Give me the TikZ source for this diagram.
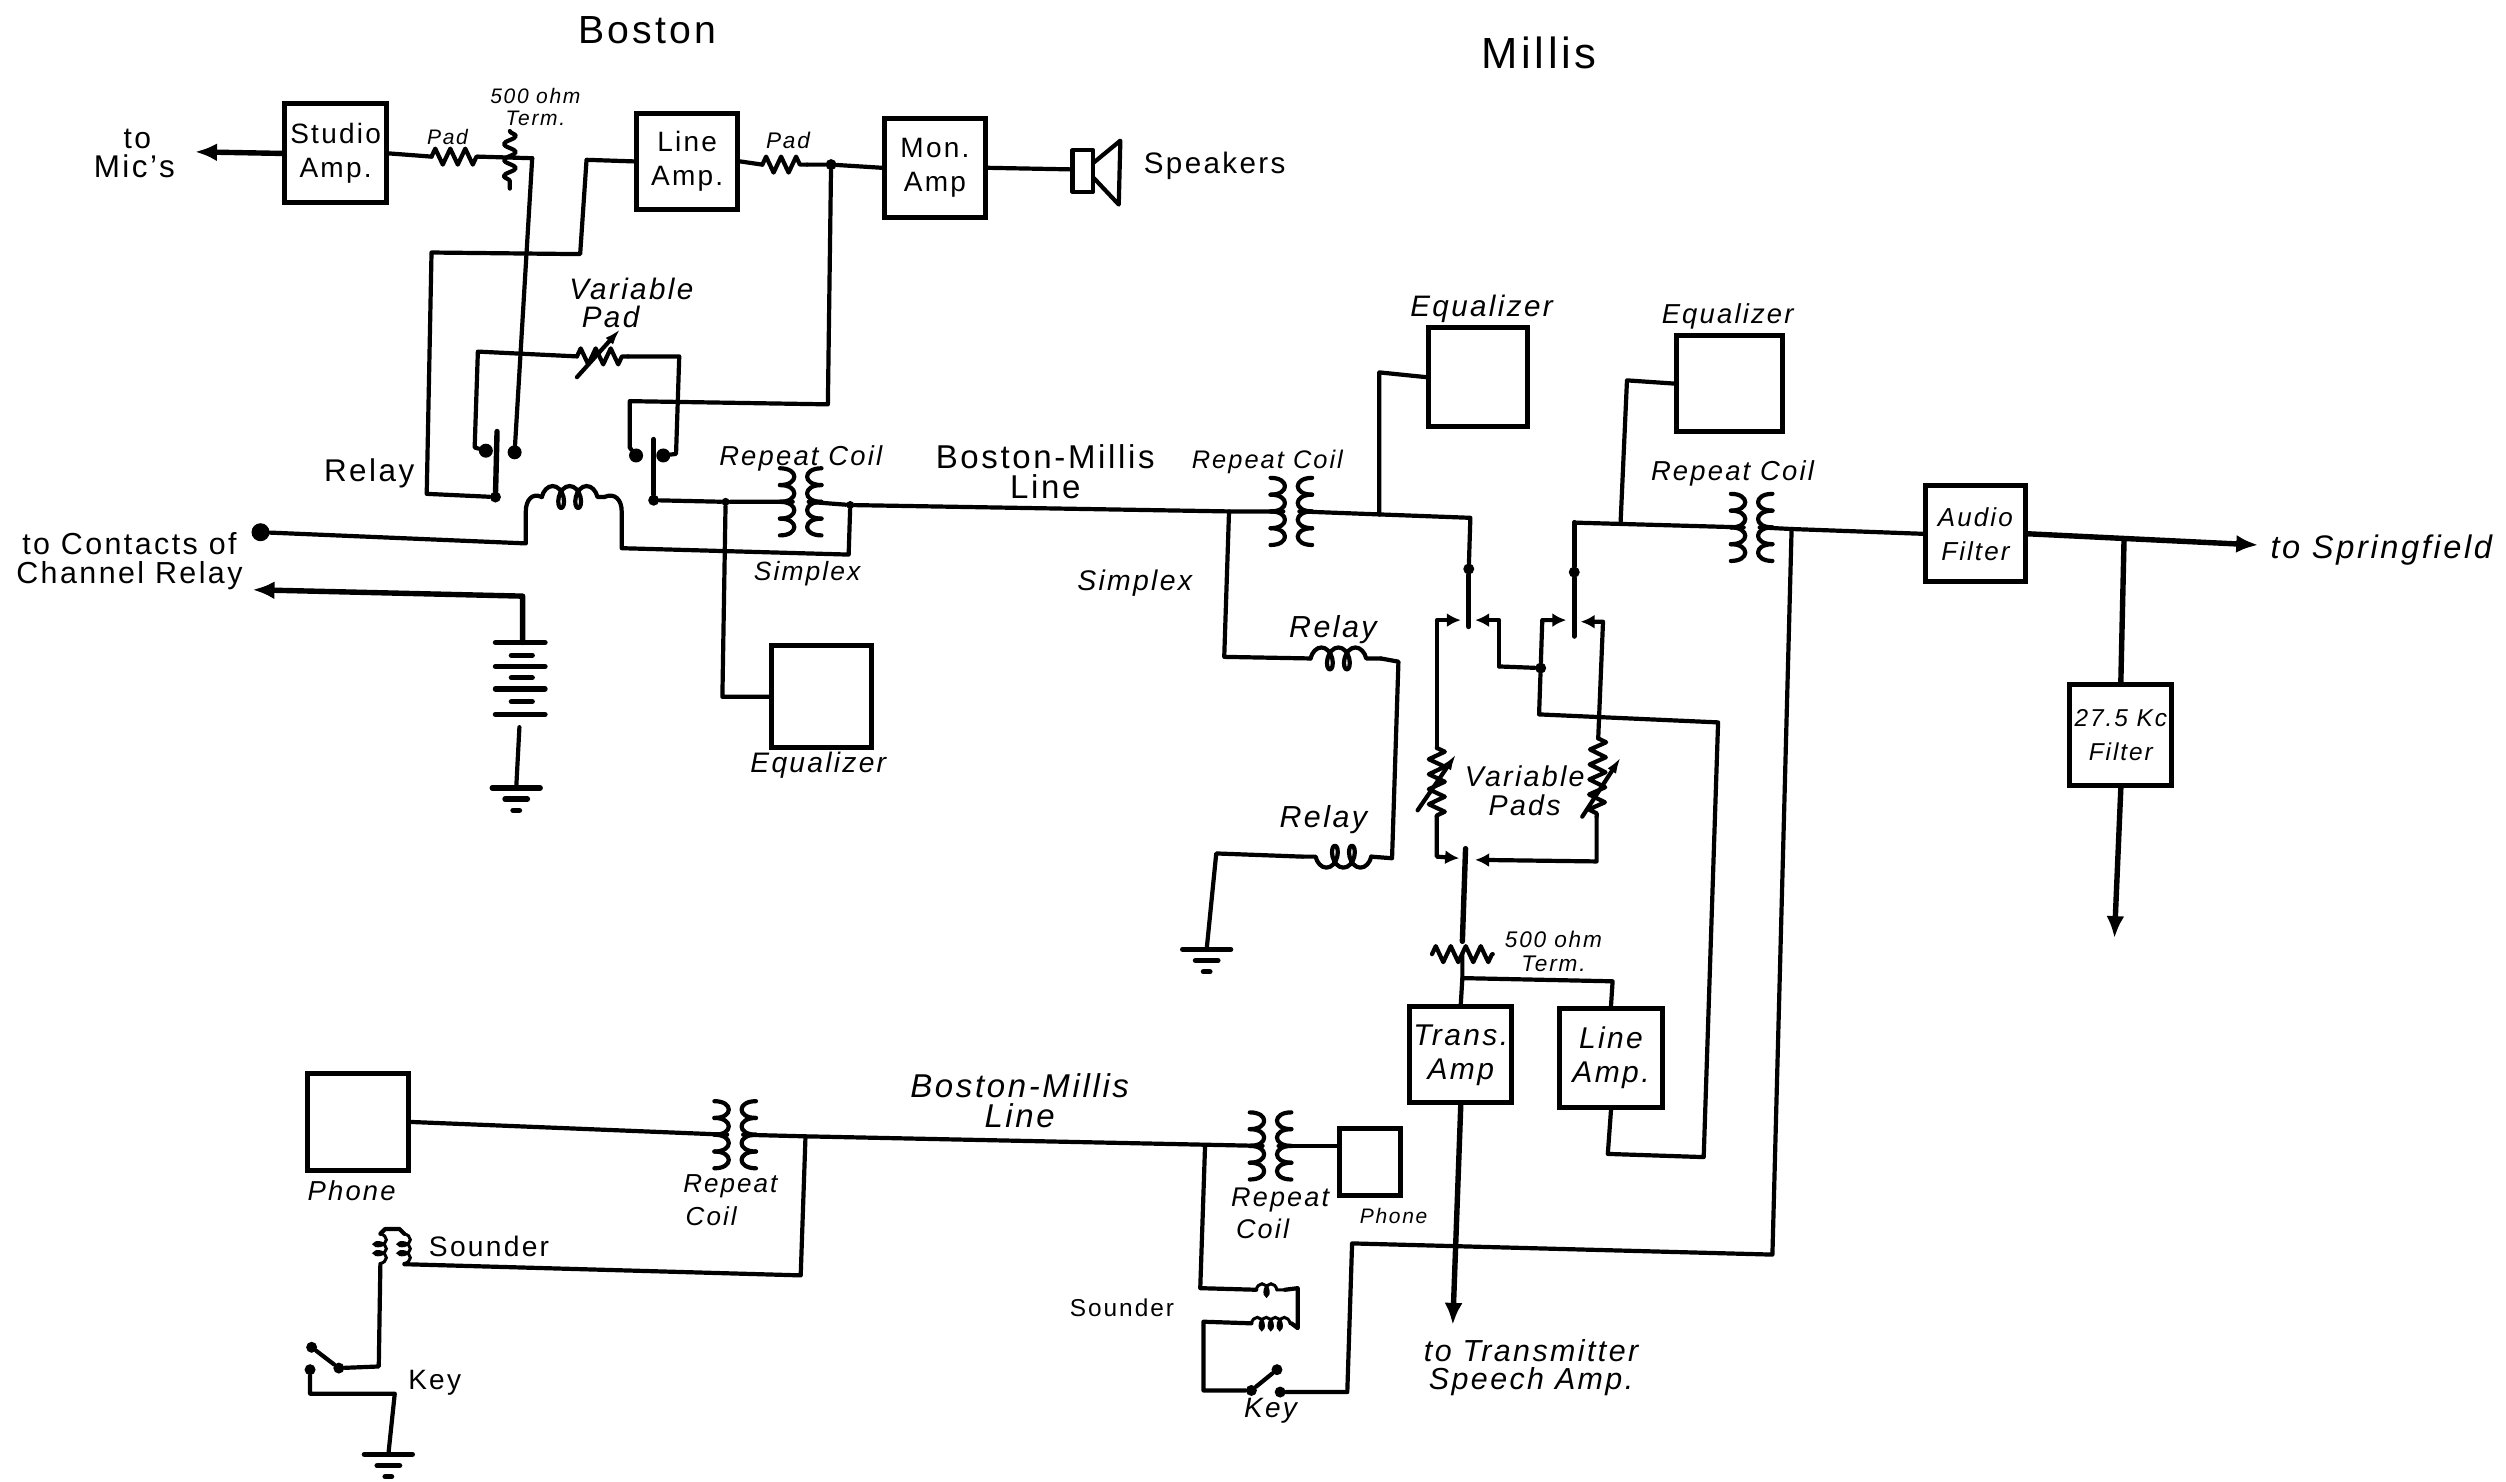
\documentclass[tikz,border=0pt]{standalone}
\usepackage{fontspec}
\setmainfont{Liberation Sans}[LetterSpace=8]
\usetikzlibrary{arrows.meta,decorations.pathmorphing}

\tikzset{
	wire/.style={line width=2.1pt,line cap=round,line join=round},
	heavy/.style={line width=2.7pt,line cap=round,line join=round},
	tip/.style={-{Latex[length=11pt,width=9pt]}},
	contact/.style={-{Latex[length=7pt,width=7pt]}},
	box/.style={draw,line width=2.5pt,align=center,inner sep=0pt},
	boxsize/.style 2 args={minimum width=#1*0.799pt,minimum height=#2*0.799pt},
	dot/.style={circle,fill,inner sep=0pt,minimum size=5.5pt},
	lab/.style={align=center,inner sep=0pt,font=\fontsize{#1}{17}\selectfont},
	lab/.default=14,
	labi/.style={align=center,inner sep=0pt,font=\fontsize{#1}{17}\selectfont\itshape},
	labi/.default=15,
	res/.style={wire,decorate,decoration={zigzag,amplitude=4pt,segment length=7.5pt}},
	ind/.style={wire,decorate,decoration={coil,aspect=0.6,amplitude=5.5pt,segment length=8.5pt}},
	smallind/.style={line width=1.5pt,decorate,decoration={coil,aspect=0.6,amplitude=3pt,segment length=4.5pt}},
	repcoil/.pic={
		\foreach \y in {-21,-10.5,0,10.5} {
			\draw[wire] (-13,\y) .. controls (-1,\y) and (-1,\y+10.5) .. (-13,\y+10.5);
			\draw[wire] (13,\y) .. controls (1,\y) and (1,\y+10.5) .. (13,\y+10.5);
		}
		\coordinate (-l) at (-5,0);
		\coordinate (-r) at (5,0);
	},
	earth/.pic={
		\draw[heavy] (-15,0) -- (15,0);
		\draw[heavy] (-7,7) -- (7,7);
		\draw[heavy] (-2,14) -- (2,14);
		\coordinate (-t) at (0,0);
	},
}

\begin{document}
\begin{tikzpicture}[x=0.799pt,y=-0.799pt]
	\useasboundingbox (0,0) rectangle (1568,927);

	\node[lab=19.6] (boston) at (405,19) {Boston};
	\node[lab=21.8] (millis) at (963,33) {Millis};

	% amplifiers and filters
	\node[box,boxsize={64}{62},lab] (studio) at (210,96) {Studio\\Amp.};
	\node[box,boxsize={63}{60},lab] (lineb) at (430,101) {Line\\Amp.};
	\node[box,boxsize={63}{62},lab] (mon) at (585,105) {Mon.\\Amp};
	\node[box,boxsize={64}{60},labi] (trans) at (914,660) {Trans.\\Amp};
	\node[box,boxsize={65}{62},labi] (linem) at (1008,662) {Line\\Amp.};
	\node[box,boxsize={63}{60},labi=13] (audio) at (1236,334) {Audio\\Filter};
	\node[box,boxsize={64}{63},labi=12.2] (kc) at (1327,460) {27.5 Kc\\Filter};

	% equalizers and phones
	\node[box,boxsize={62}{62}] (eqa) at (925,236) {};
	\node[box,boxsize={66}{60}] (eqb) at (1082,240) {};
	\node[box,boxsize={62}{64}] (eqc) at (514,436) {};
	\node[box,boxsize={63}{61}] (phonea) at (224,702) {};
	\node[box,boxsize={38}{42}] (phoneb) at (857,727) {};

	% repeat coils
	\pic (rca) at (501,314) {repcoil};
	\pic (rcb) at (808,320) {repcoil};
	\pic (rcc) at (1096,330) {repcoil};
	\pic (rcd) at (460,710) {repcoil};
	\pic (rce) at (795,717) {repcoil};

	% grounds
	\pic (gnda) at (323,493) {earth};
	\pic (gndb) at (755,594) {earth};
	\pic (gndc) at (243,910) {earth};

	% junctions
	\node[dot] (ja) at (520,103) {};
	\node[dot] (jb) at (310,311) {};
	\node[dot] (jc) at (409,313) {};
	\node[dot,minimum size=4pt] (jd) at (454,314) {};
	\node[dot,minimum size=4pt] (je) at (532,316) {};
	\node[dot] (jf) at (919,356) {};
	\node[dot] (jg) at (985,358) {};
	\node[dot] (jh) at (964,418) {};

	% contacts
	\node[dot,minimum size=7pt] (ca) at (304,282) {};
	\node[dot,minimum size=7pt] (cb) at (322,283) {};
	\node[dot,minimum size=7pt] (cc) at (398,285) {};
	\node[dot,minimum size=7pt] (cd) at (415,285) {};
	\node[dot,minimum size=9pt] (ce) at (163,333) {};
	\node[dot] (keya) at (195,843) {};
	\node[dot] (keyb) at (212,856) {};
	\node[dot] (keyc) at (194,857) {};
	\node[dot] (keyd) at (799,857) {};
	\node[dot] (keye) at (783,870) {};
	\node[dot] (keyf) at (801,871) {};

	% free ends
	\coordinate (mic) at (122,95);
	\coordinate (chan) at (158,369);
	\coordinate (spring) at (1413,341);
	\coordinate (down) at (1323,587);
	\coordinate (tx) at (909,829);

	% studio chain
	\coordinate (padaa) at (270,98);
	\coordinate (padab) at (299,98);
	\coordinate (padba) at (477,103);
	\coordinate (padbb) at (505,103);
	\coordinate (terma) at (333,99);
	\draw[heavy,tip] (studio.west) -- (mic);
	\draw[wire] (studio.east) -- (padaa);
	\draw[res] (padaa) -- (padab);
	\draw[wire] (padab) -- (terma);
	\draw[wire,decorate,decoration={snake,amplitude=3pt,segment length=8pt}] (319,82) -- (319,118);
	\draw[wire] (terma) -- (cb);
	\draw[wire] (lineb.east) -- (padba);
	\draw[res] (padba) -- (padbb);
	\draw[wire] (padbb) -- (ja) -- (mon.west);
	\draw[wire] (lineb.west) -- (367,100) -- (363,159) -- (270,158) -- (267,309) -- (jb);

	% speaker
	\coordinate (spk) at (671,106);
	\draw[wire] (mon.east) -- (spk);
	\draw[wire] (671,94) rectangle (684,120);
	\draw[wire] (684,102) -- (701,88) -- (700,128) -- (684,111);

	% variable pad and relay contacts
	\coordinate (vpa) at (361,223);
	\coordinate (vpb) at (393,223);
	\draw[wire] (ca) -- (297,280) -- (299,220) -- (vpa);
	\draw[res] (vpa) -- (vpb);
	\draw[wire,-{Latex[length=8pt,width=5pt]}] (361,236) -- (388,206);
	\draw[wire] (vpb) -- (425,223) -- (423,284) -- (cd);
	\draw[wire] (cc) -- (394,280) -- (394,251) -- (518,253) -- (ja);
	\draw[heavy] (311,270) -- (jb);
	\draw[heavy] (409,275) -- (jc);

	% relay and simplex
	\coordinate (rela) at (339,311);
	\coordinate (relb) at (378,311);
	\draw[wire] (ce) -- (329,340) -- (329,320) .. controls (329,313) and (333,308) .. (rela);
	\draw[ind] (rela) -- (relb);
	\draw[wire] (relb) .. controls (385,308) and (389,313) .. (389,320) -- (389,343) -- (531,347) -- (je);

	% line out of the studio
	\draw[wire] (jc) -- (jd) -- (rca-l);
	\draw[wire] (rca-r) -- (je) -- (769,320) -- (rcb-l);
	\draw[wire] (jd) -- (452,436) -- (eqc.west);

	% battery
	\coordinate (bata) at (327,402);
	\draw[heavy,tip] (bata) -- (327,373) -- (chan);
	\foreach \y in {402,417,431,447} {
		\draw[heavy] (310,\y) -- (341,\y);
	}
	\foreach \y in {410,424,439} {
		\draw[heavy] (320,\y) -- (333,\y);
	}
	\draw[wire] (325,455) -- (gnda-t);

	% millis relays
	\coordinate (rly) at (769,320);
	\coordinate (cab) at (820,412);
	\coordinate (cac) at (864,412);
	\coordinate (cbb) at (815,536);
	\coordinate (cbc) at (858,536);
	\draw[wire] (rly) -- (766,411) -- (cab);
	\draw[ind] (cab) -- (cac);
	\draw[wire] (cac) -- (875,414) -- (871,537) -- (cbc);
	\draw[ind] (cbc) -- (cbb);
	\draw[wire] (cbb) -- (761,534) -- (gndb-t);

	% switching at millis
	\draw[wire] (rcb-r) -- (920,324) -- (jf);
	\draw[heavy] (jf) -- (919,392);
	\draw[wire] (863,322) -- (863,233) -- (eqa.west);
	\draw[wire,contact] (899,468) -- (899,388) -- (914,388);
	\draw[wire,contact] (938,417) -- (938,388) -- (923,388);
	\draw[wire] (938,417) -- (jh);
	\draw[wire,contact] (jh) -- (965,388) -- (980,388);
	\draw[wire] (jh) -- (963,447) -- (1075,452) -- (1066,724) -- (1006,722) -- (linem.south);
	\draw[wire,contact] (1000,462) -- (1003,389) -- (989,389);
	\draw[heavy] (985,327) -- (jg) -- (985,398);
	\draw[wire] (985,327) -- (rcc-l);
	\draw[wire] (1014,327) -- (1018,238) -- (eqb.west);

	% variable pads
	\coordinate (vqa) at (899,468);
	\coordinate (vqb) at (899,511);
	\coordinate (vra) at (1000,462);
	\coordinate (vrb) at (999,511);
	\draw[res] (vqa) -- (vqb);
	\draw[res] (vra) -- (vrb);
	\draw[wire,-{Latex[length=8pt,width=5pt]}] (887,507) -- (911,472);
	\draw[wire,-{Latex[length=8pt,width=5pt]}] (990,511) -- (1014,474);
	\draw[wire,contact] (vqb) -- (899,536) -- (913,537);
	\draw[wire,contact] (vrb) -- (999,539) -- (923,538);
	\draw[heavy] (917,531) -- (915,589);

	% termination and amplifiers
	\coordinate (tza) at (896,597);
	\coordinate (tzb) at (934,597);
	\coordinate (tj) at (915,612);
	\draw[res] (tza) -- (tzb);
	\draw[wire] (915,597) -- (tj) -- (trans.north);
	\draw[wire] (tj) -- (1009,614) -- (linem.north);
	\draw[heavy,tip] (trans.south) -- (tx);

	% output side
	\coordinate (ot) at (1121,331);
	\draw[wire] (rcc-r) -- (ot) -- (audio.west);
	\draw[heavy,tip] (audio.east) -- (spring);
	\draw[heavy] (1329,338) -- (kc.north);
	\draw[heavy,tip] (kc.south) -- (down);
	\draw[wire] (ot) -- (1109,785) -- (846,778) -- (843,871) -- (keyf);

	% order wire, boston
	\draw[wire] (phonea.east) -- (rcd-l);
	\draw[wire] (rcd-r) -- (504,711) -- (rce-l);
	\coordinate (sa) at (238,772);
	\coordinate (sb) at (238,791);
	\coordinate (sc) at (253,772);
	\coordinate (sd) at (253,791);
	\draw[smallind] (sa) -- (sb);
	\draw[smallind] (sc) -- (sd);
	\draw[wire] (sa) -- (241,769) -- (250,769) -- (sc);
	\draw[wire] (sd) -- (501,798) -- (504,711);
	\draw[wire] (sb) -- (237,855) -- (keyb);
	\draw[wire] (keya) -- (keyb);
	\draw[wire] (keyc) -- (194,872) -- (247,872) -- (gndc-t);

	% order wire, millis
	\coordinate (ma) at (786,807);
	\coordinate (mb) at (804,807);
	\coordinate (mc) at (783,828);
	\coordinate (md) at (808,828);
	\draw[wire] (rce-r) -- (phoneb.west |- rce-r);
	\draw[wire] (754,717) -- (751,806) -- (ma);
	\draw[smallind] (ma) -- (mb);
	\draw[wire] (mb) -- (812,806) -- (812,831) -- (md);
	\draw[smallind] (mc) -- (md);
	\draw[wire] (mc) -- (753,827) -- (753,870) -- (keye);
	\draw[wire] (keye) -- (keyd);

	% labels
	\node[lab=15] (ltoa) at (86,87) {to};
	\node[lab=15.7] (lmic) at (84,104) {Mic's};
	\node[labi=10.5] (lpada) at (280,86) {Pad};
	\node[labi,font=\fontsize{10.5}{11}\selectfont\itshape] (lterma) at (335,67) {500 ohm\\Term.};
	\node[labi=11.3] (lpadb) at (493,88) {Pad};
	\node[lab=14.8] (lspk) at (760,104) {Speakers};
	\node[labi=14.8] (lvara) at (395,181) {Variable};
	\node[labi=14.8] (lvarb) at (382,198) {Pad};
	\node[lab=15.7] (lrel) at (231,296) {Relay};
	\node[labi=13.7] (lrepa) at (501,287) {Repeat Coil};
	\node[lab,font=\fontsize{15.2}{14.4}\selectfont] (lchan) at (81,351) {to Contacts of\\Channel Relay};
	\node[labi=13.2] (lsima) at (505,359) {Simplex};
	\node[labi=14.1] (leqc) at (512,479) {Equalizer};
	\node[lab,font=\fontsize{16.5}{15}\selectfont] (lbm) at (654,295) {Boston-Millis\\Line};
	\node[labi=12.7] (lrepb) at (793,289) {Repeat Coil};
	\node[labi=14.2] (lsimb) at (710,365) {Simplex};
	\node[labi=14.8] (leqa) at (927,193) {Equalizer};
	\node[labi=13.7] (leqb) at (1081,198) {Equalizer};
	\node[labi=13.7] (lrepc) at (1084,296) {Repeat Coil};
	\node[labi=15.2] (lrela) at (834,394) {Relay};
	\node[labi=15.2] (lrelb) at (828,513) {Relay};
	\node[labi,font=\fontsize{14.3}{14.5}\selectfont\itshape] (lvp) at (954,495) {Variable\\Pads};
	\node[labi,font=\fontsize{11.3}{12}\selectfont\itshape] (ltermb) at (972,595) {500 ohm\\Term.};
	\node[labi=16.3] (lspring) at (1490,344) {to Springfield};
	\node[labi=13.7] (lpha) at (220,745) {Phone};
	\node[labi=13] (lrepd) at (457,742) {Repeat};
	\node[labi=13] (lcoild) at (445,761) {Coil};
	\node[lab=14.1] (lsa) at (306,780) {Sounder};
	\node[lab=14] (lka) at (272,865) {Key};
	\node[labi,font=\fontsize{16.5}{15}\selectfont\itshape] (lbmb) at (638,689) {Boston-Millis\\Line};
	\node[labi=13.5] (lrepe) at (801,751) {Repeat};
	\node[labi=13.5] (lcoile) at (790,769) {Coil};
	\node[labi=10.5] (lphb) at (872,761) {Phone};
	\node[lab=12.2] (lsb) at (702,818) {Sounder};
	\node[labi=14] (lkb) at (795,883) {Key};
	\node[labi,font=\fontsize{15.2}{14}\selectfont\itshape] (ltx) at (958,856) {to Transmitter\\Speech Amp.};
\end{tikzpicture}
\end{document}
